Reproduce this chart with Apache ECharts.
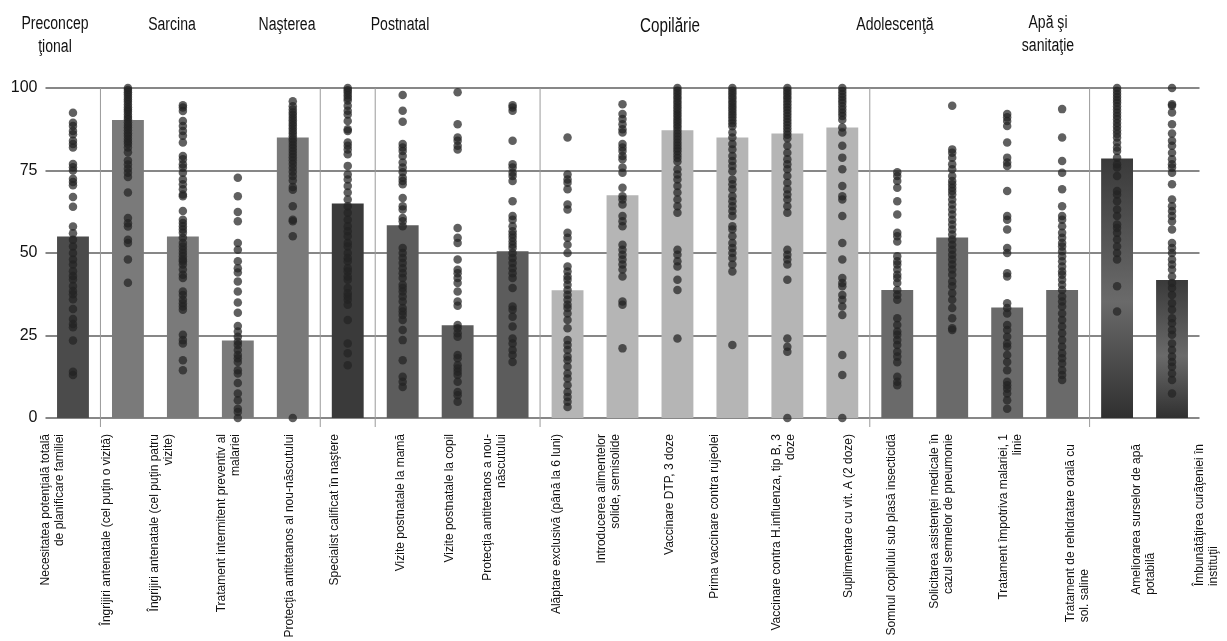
<!DOCTYPE html>
<html>
<head>
<meta charset="utf-8">
<script src="https://cdn.jsdelivr.net/npm/echarts@6/dist/echarts.min.js"></script>
<style>
html,body{margin:0;padding:0;background:#fff;}
#chart{width:1227px;height:641px;}
</style>
</head>
<body>
<div id="chart"></div>
<script>
// ---------------- DATA ----------------
const categories = [
  "Necesitatea potenţială totală\nde planificare familiei",
  "Îngrijiri antenatale (cel puţin o vizită)",
  "Îngrijiri antenatale (cel puţin patru\nvizite)",
  "Tratament intermitent preventiv al\nmalariei",
  "Protecţia antitetanos al nou-născutului",
  "Specialist calificat în naştere",
  "Vizite postnatale la mamă",
  "Vizite postnatale la copil",
  "Protecţia antitetanos a nou-\nnăscutului",
  "Alăptare exclusivă (până la 6 luni)",
  "Introducerea alimentelor\nsolide, semisolide",
  "Vaccinare DTP, 3 doze",
  "Prima vaccinare contra rujeolei",
  "Vaccinare contra H.influenza, tip B, 3\ndoze",
  "Suplimentare cu vit. A (2 doze)",
  "Somnul copilului sub plasă insecticidă",
  "Solicitarea asistenţei medicale în\ncazul semnelor de pneumonie",
  "Tratament împotriva malariei, 1\nlinie",
  "Tratament de rehidratare orală cu\nsol. saline",
  "Ameliorarea surselor de apă\npotabilă",
  "Îmbunătăţirea curăţeniei în\ninstituţii"
];

const groupNames = ["Preconcep\nţional", "Sarcina", "Naşterea", "Postnatal", "Copilărie", "Adolescenţă", "Apă şi\nsanitaţie"];
const groupSizes = [1, 4, 1, 3, 6, 4, 2];

const medianValues = [55, 90.3, 55, 23.5, 85, 65, 58.4, 28.1, 50.5, 38.7, 67.5, 87.2, 85, 86.2, 88, 38.8, 54.7, 33.5, 38.8, 78.6, 41.8];

const yTicks = [0, 25, 50, 75, 100];

const countryValues = [
  [92.5, 89.5, 88.5, 87, 86, 84, 83, 82, 77, 76, 75, 72.5, 71.5, 70.5, 67, 64, 58, 56, 54, 52, 50, 48, 46.5, 44.5, 43, 42, 40, 38.5, 37.5, 36, 33, 30, 28.5, 27.5, 23.5, 14, 13],
  [100, 99.4, 98.7, 98, 97.3, 96.5, 95.8, 95, 94.2, 93.5, 92.8, 92, 91.2, 90.5, 89.6, 88.8, 88, 87.2, 86.3, 85.5, 84.6, 83.8, 83, 82, 80.5, 78, 76.8, 75.5, 74.3, 73, 68.3, 60.6, 59, 58, 54, 53, 48, 41],
  [94.8, 94.1, 93, 90, 88.5, 87, 85.5, 83.5, 79.4, 78.4, 76.9, 75.9, 74.3, 72.3, 70.8, 69.3, 67.7, 67.2, 62.7, 60.1, 59.1, 58.1, 57.1, 56.1, 54.6, 53, 52, 51, 50, 49, 48, 47.5, 46.5, 45, 43.4, 42.4, 38.3, 37.3, 35.8, 34.8, 33.8, 32.8, 25.2, 23.6, 22.6, 17.5, 14.5],
  [72.8, 67.2, 62.4, 59.6, 53, 51, 47.5, 45.4, 44.1, 41.4, 38.3, 35, 31.9, 27.9, 26.2, 24.6, 23.1, 22.1, 20.6, 19.1, 18.1, 17, 14.5, 13.5, 10.6, 7.4, 5.4, 2.8, 1.8, 0],
  [96, 94.5, 93.5, 92.6, 91.8, 91, 90.2, 89.4, 88.6, 87.8, 87, 86.2, 85.4, 84.5, 83.6, 82.7, 81.8, 80.9, 80, 79, 78, 77, 75.8, 74.6, 73.3, 72, 70, 69.2, 64.2, 60.1, 59.6, 55.1, 0],
  [100, 99.3, 98.6, 97.8, 97, 96.2, 94.6, 93.1, 92, 90, 87.5, 87, 83.5, 82.5, 81.4, 79.9, 76.4, 73.8, 72.3, 70.3, 68.3, 66.2, 64.2, 62.2, 60.1, 58.1, 56.6, 55.1, 53, 52, 50, 48.5, 47.5, 45.4, 44.4, 42.9, 41.9, 39.4, 37.8, 36.8, 35.8, 34.3, 29.7, 22.6, 19.6, 16],
  [97.9, 93.1, 89.8, 83, 82, 80.9, 79.4, 77.4, 75.9, 74.5, 72.8, 71.8, 70.8, 66.7, 64.2, 63.2, 60.6, 59.6, 58.1, 51.5, 50, 48.5, 47, 45.4, 43.9, 42.4, 40.4, 39.4, 38.3, 36.8, 35.3, 33.3, 32.3, 31.2, 29.7, 26.7, 23.6, 17.5, 12.5, 11, 9.4],
  [98.7, 89, 85, 84, 82.5, 81.4, 57.6, 54.6, 53, 48, 44.9, 43.9, 42.4, 40.9, 38.3, 35.3, 34, 28.2, 27.2, 25.7, 24.6, 19.1, 18.1, 16, 15, 14, 13, 11, 7.9, 6.9, 4.9],
  [94.8, 94.1, 93.1, 84, 76.9, 75.9, 74.3, 73.3, 71.8, 65.7, 61.2, 60.1, 58.1, 56.6, 55.6, 54.6, 53.5, 52.5, 51.5, 50, 48.5, 47, 45.4, 43.9, 42.4, 39.4, 33.8, 32.8, 30.7, 27.7, 24.1, 22.6, 20.6, 19.1, 17],
  [85, 73.8, 72.3, 71.3, 69.3, 64.7, 63.2, 56.1, 54.6, 52.5, 50, 45.9, 44.4, 42.9, 41.9, 40.4, 38.8, 37.3, 35.8, 34.3, 33.3, 31.7, 29.7, 27.2, 23.6, 22.1, 20.6, 18.6, 17.5, 15.5, 13.5, 12, 9.9, 7.9, 6.4, 4.9, 3.3],
  [95.1, 92.1, 90.6, 89, 87.5, 86.5, 83, 82, 80.9, 79.4, 78.4, 75.9, 74.3, 69.8, 67.2, 66.2, 64.7, 61.2, 59.6, 58.1, 52.5, 51, 49.5, 48, 46.5, 45, 42.9, 35.3, 34.3, 21.1],
  [100, 99.2, 98.4, 97.6, 96.8, 96, 95.2, 94.4, 93.6, 92.8, 92, 91.2, 90.4, 89.6, 88.8, 88, 87.1, 86.2, 85.3, 84.4, 83.5, 82.6, 81.7, 80.8, 79.8, 78.8, 77.7, 75.4, 73.8, 72.3, 70.3, 68.3, 66.2, 64.2, 62.2, 51, 49.5, 47.5, 45.9, 41.9, 38.8, 24.1],
  [100, 99.2, 98.4, 97.6, 96.8, 96, 95.2, 94.4, 93.6, 92.8, 92, 91.1, 90.2, 89.3, 88.4, 86.5, 85, 83, 81.4, 79.4, 77.9, 76.4, 74.8, 72.3, 70.8, 69.3, 67.2, 65.7, 64.2, 62.7, 61.2, 58.1, 57.1, 55.1, 53, 51.5, 50, 48.5, 46.5, 44.4, 22.1],
  [100, 99.2, 98.4, 97.6, 96.8, 96, 95.1, 94.2, 93.3, 92.4, 91.5, 90.6, 89.7, 88.8, 87.8, 86.8, 85.8, 84.8, 82.5, 80.4, 78.4, 76.9, 75.4, 73.3, 71.3, 69.3, 67.7, 66.2, 64.2, 62.2, 51, 49.5, 48, 46.5, 41.9, 24.1, 21.6, 20.1, 0],
  [100, 99.1, 98.2, 97.3, 96.4, 95.5, 94.5, 93.5, 92.5, 91.5, 90.4, 88, 86.5, 82.5, 78.9, 75.4, 70.3, 67.2, 66.2, 61.2, 53, 48, 42.4, 40.9, 39.9, 37.3, 35.8, 33.8, 31.2, 19.1, 13, 0],
  [74.5, 73.3, 71.8, 69.8, 65.7, 61.7, 56.1, 55.1, 53.5, 49, 47.5, 46.5, 45, 43.4, 42.4, 40.9, 38.8, 37.3, 35.8, 30.2, 28.2, 26.2, 25.2, 23.6, 22.1, 20.1, 18.6, 16.9, 12.5, 11, 9.9],
  [94.6, 81.4, 80.4, 78.9, 76.9, 75.4, 73.3, 71.8, 70.8, 69.8, 68.8, 67.7, 66.2, 64.7, 63.2, 61.7, 60.1, 58.6, 57.1, 55.6, 54.1, 52.5, 51, 49.5, 48, 46.5, 45, 43.4, 41.4, 39.9, 37.8, 35.8, 33.3, 30.2, 27.2, 26.7],
  [92.1, 91.1, 90, 88.5, 83.5, 78.9, 77.4, 76.4, 68.8, 61.2, 60.1, 57.1, 51.5, 50, 43.9, 42.9, 34.8, 33.3, 31.7, 28.2, 26.7, 24.6, 22.6, 21.6, 19.1, 17, 14.5, 11, 9.9, 8.9, 7.4, 5.4, 2.8],
  [93.6, 85, 77.9, 74.3, 69.3, 64.2, 61.2, 60.1, 58.1, 56.1, 54.6, 53, 52, 50.5, 49, 47.5, 45.9, 44.4, 43.4, 41.9, 40.4, 38.8, 36.8, 35.3, 33.8, 31.7, 29.7, 27.7, 25.7, 23.6, 21.6, 19.6, 18.1, 16.5, 14.5, 13, 11.5],
  [100, 99.1, 98.2, 97.3, 96.4, 95.5, 94.5, 93.5, 92.5, 91.5, 90.5, 89.4, 88.3, 87.2, 86.1, 85, 83.5, 82, 80.9, 78.9, 76.9, 75.9, 73.3, 68.8, 67.7, 65.7, 63.2, 61.2, 58.6, 57.6, 56.1, 54.1, 52, 50, 48, 39.9, 32.3],
  [100, 95.1, 94.6, 92.6, 89, 86.2, 84, 82.5, 80.4, 78.4, 76.9, 75.9, 74.3, 70.8, 66.2, 64.2, 62.7, 61.2, 59.6, 57.1, 53, 51.5, 50, 48, 46.5, 45, 42.9, 40.9, 39.4, 37.3, 34.8, 32.8, 30.2, 28.7, 26.7, 25.2, 22.6, 20.6, 18.6, 17, 15.5, 13.5, 11.5, 7.4]
];

// ---------------- STYLE ----------------
const FONT = "'Liberation Sans', Arial, sans-serif";
const gradDark = {
  type: 'linear', x: 0, y: 0, x2: 0, y2: 1,
  colorStops: [{offset: 0, color: '#3a3a3a'}, {offset: 0.55, color: '#6a6a6a'}, {offset: 1, color: '#303030'}]
};
const barColors = ['#4b4b4b', '#7a7a7a', '#7a7a7a', '#7a7a7a', '#7a7a7a', '#3a3a3a',
  '#5c5c5c', '#5c5c5c', '#5c5c5c',
  '#b5b5b5', '#b5b5b5', '#b5b5b5', '#b5b5b5', '#b5b5b5', '#b5b5b5',
  '#6a6a6a', '#6a6a6a', '#6a6a6a', '#6a6a6a', gradDark, gradDark];
// horizontal label offsets (px) relative to category centre, and left-aligned multi-line labels
const labelShift = [-20, -21, -21, -9, -3, -13, -2, -8, -18, -11, -14, -8, -18, -4, 6, -6, -11, 4, 16, 27, 35];
const labelLeftAligned = [false, false, false, false, false, false, false, false, false, false, false, false, false, false, false, false, false, false, true, true, true];
const headerPos = [[55, 36], [172, 25], [287, 25], [400, 25], [670, 27], [895, 25], [1048, 35]];
const headerSize = [18, 18, 18, 18, 19.5, 18, 18];
const headerCondense = 0.78;

// ---------------- BUILD ----------------
const separators = [];
let acc = 0;
for (let i = 0; i < groupSizes.length - 1; i++) { acc += groupSizes[i]; separators.push([acc, 0]); }

const scatterData = [];
countryValues.forEach((arr, i) => arr.forEach(v => scatterData.push([i, v])));

const catData = categories.map((c, i) => {
  const s = labelShift[i];
  const pad = [s > 0 ? 2 * s : 0, labelLeftAligned[i] ? 10 : 0, s < 0 ? -2 * s : 0, 0];
  return {value: c, textStyle: {padding: pad}};
});

const chart = echarts.init(document.getElementById('chart'));
chart.setOption({
  backgroundColor: '#ffffff',
  animation: false,
  grid: {left: 45.5, right: 27.5, top: 88, bottom: 223, containLabel: false, outerBoundsMode: 'none'},
  xAxis: [{
    type: 'category',
    data: catData,
    axisLine: {show: false},
    axisTick: {show: false},
    splitLine: {show: false},
    axisLabel: {
      interval: 0, rotate: 90, margin: 16,
      fontSize: 12, lineHeight: 14, color: '#111', fontFamily: FONT,
      formatter: function (value, index) {
        if (labelLeftAligned[index]) {
          return value.split('\n').map(s => '{l|' + s + '}').join('\n');
        }
        return value;
      },
      rich: {l: {align: 'left', fontSize: 12, lineHeight: 14, color: '#111', fontFamily: FONT}}
    }
  }, {
    type: 'value', min: 0, max: categories.length, show: false
  }],
  yAxis: {
    type: 'value', min: yTicks[0], max: yTicks[yTicks.length - 1], interval: 25,
    axisLine: {show: false}, axisTick: {show: false},
    axisLabel: {fontSize: 16, color: '#111', fontFamily: FONT, margin: 8},
    splitLine: {show: true, lineStyle: {color: '#5f5f5f', width: 1.5}}
  },
  graphic: groupNames.map((g, i) => ({
    type: 'text', x: headerPos[i][0], y: headerPos[i][1], silent: true,
    scaleX: headerCondense, scaleY: 1,
    style: {
      text: g, align: 'center', verticalAlign: 'middle',
      fontSize: headerSize[i], fontFamily: FONT, lineHeight: 23, fill: '#111'
    }
  })),
  series: [{
    type: 'custom',
    xAxisIndex: 1, yAxisIndex: 0,
    data: separators,
    z: 1,
    renderItem: function (params, api) {
      const top = api.coord([api.value(0), 100]);
      const bot = api.coord([api.value(0), 0]);
      return {type: 'line', shape: {x1: top[0], y1: top[1], x2: top[0], y2: bot[1] + 9},
        style: {stroke: '#9a9a9a', lineWidth: 1}};
    }
  }, {
    type: 'bar',
    barWidth: '58%',
    z: 2,
    data: medianValues.map((v, i) => ({value: v, itemStyle: {color: barColors[i]}}))
  }, {
    type: 'scatter',
    symbolSize: 8.5,
    z: 3,
    itemStyle: {color: '#222222', opacity: 0.72},
    data: scatterData
  }]
});
</script>
</body>
</html>
